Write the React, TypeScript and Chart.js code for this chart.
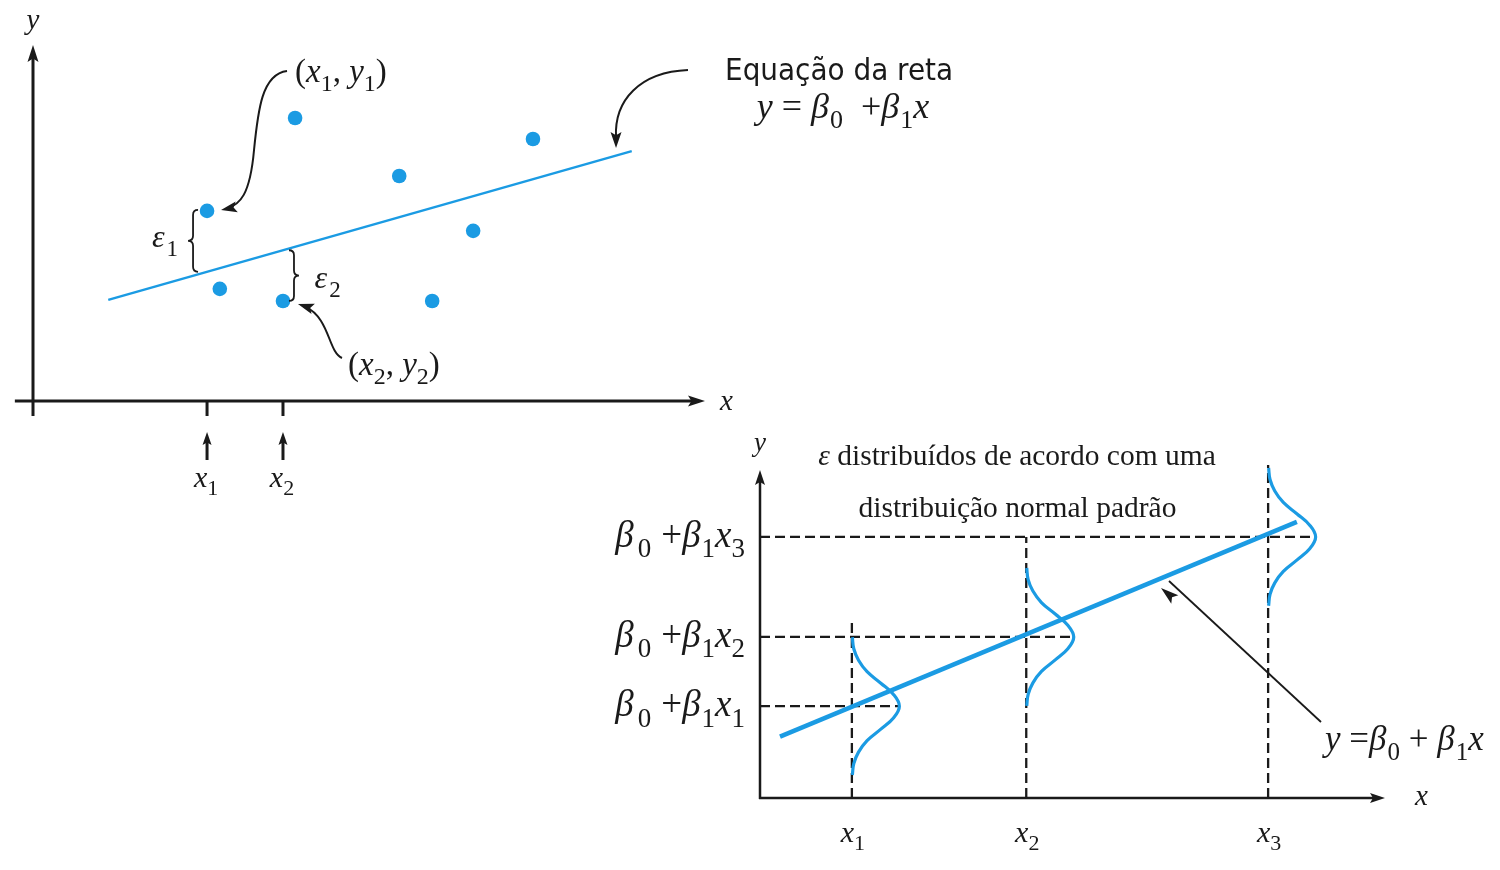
import React, { useEffect, useRef } from 'react';
import { Chart, registerables } from 'chart.js';

Chart.register(...registerables);

const BLUE = '#1b9be3';
const INK = '#1a1a1a';
const SERIF = '"Liberation Serif", "Times New Roman", serif';
const SANS = '"DejaVu Sans Condensed", "DejaVu Sans", sans-serif';

// ---------- Chart 1: sample points and fitted line ----------
const sampleX = [2.59, 3.9, 5.45, 7.44, 6.55, 2.78, 3.72, 5.94];
const sampleY = [5.34, 7.95, 6.32, 7.36, 4.78, 3.15, 2.81, 2.81];
const fitLineX = [1.12, 8.91];
const fitLineY = [2.84, 7.02];
const markedIdx = [0, 6];
const tickSubs1 = ['1', '2'];

// ---------- Chart 2: normal error curves around the line ----------
const levelX = [1.47, 4.26, 8.13];
const levelY = [2.8, 4.91, 7.96];
const vertTop = [5.49, 7.96, 10.15];
const trendX = [0.32, 8.59];
const trendY = [1.87, 8.42];
const bellZ = [-3, -2.5, -2, -1.5, -1, -0.5, 0, 0.5, 1, 1.5, 2, 2.5, 3];
const bellH = [0.01, 0.04, 0.14, 0.32, 0.61, 0.88, 1, 0.88, 0.61, 0.32, 0.14, 0.04, 0.01];
const bellWidth = 0.76;
const bellHalfSpan = 2.1;
const subs2 = ['1', '2', '3'];

type Seg = { t: string; it?: boolean; sub?: boolean; gap?: number };

function drawRich(ctx: CanvasRenderingContext2D, segs: Seg[], x: number, y: number, size: number, align: 'left' | 'center' | 'right', fam = SERIF) {
  const fontOf = (s: Seg) => `${s.it ? 'italic ' : ''}${s.sub ? Math.round(size * 0.72) : size}px ${fam}`;
  let w = 0;
  for (const s of segs) {
    ctx.font = fontOf(s);
    w += ctx.measureText(s.t).width + (s.gap || 0);
  }
  let cx = align === 'left' ? x : align === 'center' ? x - w / 2 : x - w;
  ctx.textAlign = 'left';
  ctx.textBaseline = 'alphabetic';
  for (const s of segs) {
    ctx.font = fontOf(s);
    ctx.fillText(s.t, cx, y + (s.sub ? size * 0.28 : 0));
    cx += ctx.measureText(s.t).width + (s.gap || 0);
  }
}

function seg(ctx: CanvasRenderingContext2D, x1: number, y1: number, x2: number, y2: number) {
  ctx.beginPath();
  ctx.moveTo(x1, y1);
  ctx.lineTo(x2, y2);
  ctx.stroke();
}

function arrowHead(ctx: CanvasRenderingContext2D, tx: number, ty: number, fx: number, fy: number, len = 13, half = 5) {
  const a = Math.atan2(ty - fy, tx - fx);
  const c = Math.cos(a), s = Math.sin(a);
  ctx.beginPath();
  ctx.moveTo(tx, ty);
  ctx.lineTo(tx - len * c + half * s, ty - len * s - half * c);
  ctx.lineTo(tx - len * c * 0.8, ty - len * s * 0.8);
  ctx.lineTo(tx - len * c - half * s, ty - len * s + half * c);
  ctx.closePath();
  ctx.fill();
}

function brace(ctx: CanvasRenderingContext2D, x: number, yTop: number, yBot: number, dir: number) {
  const r = 5;
  const ym = (yTop + yBot) / 2;
  ctx.beginPath();
  ctx.moveTo(x - dir * r, yTop);
  ctx.quadraticCurveTo(x, yTop, x, yTop + r);
  ctx.lineTo(x, ym - r);
  ctx.quadraticCurveTo(x, ym, x + dir * r, ym);
  ctx.quadraticCurveTo(x, ym, x, ym + r);
  ctx.lineTo(x, yBot - r);
  ctx.quadraticCurveTo(x, yBot, x - dir * r, yBot);
  ctx.stroke();
}

const lineAt = (v: number) => fitLineY[0] + ((v - fitLineX[0]) * (fitLineY[1] - fitLineY[0])) / (fitLineX[1] - fitLineX[0]);

const deco1 = {
  id: 'deco1',
  beforeDatasetsDraw(chart: any) {
    const { ctx, scales } = chart;
    const X = (v: number) => scales.x.getPixelForValue(v);
    const Y = (v: number) => scales.y.getPixelForValue(v);
    ctx.save();
    ctx.strokeStyle = INK;
    ctx.fillStyle = INK;
    ctx.lineWidth = 3;
    const ox = X(0), oy = Y(0);
    seg(ctx, ox, Y(-0.42), ox, Y(10) + 12);
    arrowHead(ctx, ox, Y(10), ox, Y(10) + 20, 17, 5.5);
    seg(ctx, X(-0.27), oy, X(10) - 12, oy);
    arrowHead(ctx, X(10), oy, X(10) - 20, oy, 17, 5.5);
    markedIdx.forEach((idx, k) => {
      const tx = X(sampleX[idx]);
      ctx.lineWidth = 3;
      seg(ctx, tx, oy, tx, oy + 15);
      seg(ctx, tx, oy + 59, tx, oy + 40);
      arrowHead(ctx, tx, oy + 31, tx, oy + 50, 13, 4.5);
      drawRich(ctx, [{ t: 'x', it: true }, { t: tickSubs1[k], sub: true }], tx - 1, oy + 86, 30, 'center');
    });
    drawRich(ctx, [{ t: 'y', it: true }], ox, Y(10) - 16, 29, 'center');
    drawRich(ctx, [{ t: 'x', it: true }], X(10) + 15, oy + 9, 29, 'left');
    ctx.restore();
  },
  afterDatasetsDraw(chart: any) {
    const { ctx, scales } = chart;
    const X = (v: number) => scales.x.getPixelForValue(v);
    const Y = (v: number) => scales.y.getPixelForValue(v);
    ctx.save();
    ctx.strokeStyle = INK;
    ctx.fillStyle = INK;
    ctx.lineWidth = 1.8;
    const i1 = markedIdx[0], i2 = markedIdx[1];
    brace(ctx, X(sampleX[i1]) - 14, Y(sampleY[i1]) - 1, Y(lineAt(sampleX[i1])), -1);
    brace(ctx, X(sampleX[i2]) + 11, Y(lineAt(sampleX[i2])), Y(sampleY[i2]), 1);
    drawRich(ctx, [{ t: 'ε', it: true, gap: 2 }, { t: '1', sub: true }], X(1.77), Y(4.326), 32, 'left');
    drawRich(ctx, [{ t: 'ε', it: true, gap: 2 }, { t: '2', sub: true }], X(4.19), Y(3.174), 32, 'left');
    drawRich(ctx, [{ t: '(' }, { t: 'x', it: true }, { t: '1', sub: true }, { t: ', ' }, { t: 'y', it: true }, { t: '1', sub: true }, { t: ')' }], X(3.899), Y(8.961), 33, 'left');
    drawRich(ctx, [{ t: '(' }, { t: 'x', it: true }, { t: '2', sub: true }, { t: ', ' }, { t: 'y', it: true }, { t: '2', sub: true }, { t: ')' }], X(4.688), Y(0.73), 33, 'left');
    ctx.lineWidth = 2;
    ctx.beginPath();
    ctx.moveTo(X(3.78), Y(9.27));
    ctx.bezierCurveTo(X(3.408), Y(9.185), X(3.348), Y(8.174), X(3.289), Y(7.051));
    ctx.bezierCurveTo(X(3.229), Y(5.787), X(3.08), Y(5.506), X(2.87), Y(5.39));
    ctx.stroke();
    arrowHead(ctx, X(2.798), Y(5.365), X(3.0), Y(5.44), 16, 5.5);
    ctx.beginPath();
    ctx.moveTo(X(4.598), Y(1.208));
    ctx.bezierCurveTo(X(4.39), Y(1.376), X(4.42), Y(2.331), X(4.05), Y(2.65));
    ctx.stroke();
    arrowHead(ctx, X(3.943), Y(2.725), X(4.15), Y(2.6), 16, 5.5);
    ctx.font = `31px ${SANS}`;
    ctx.textAlign = 'left';
    ctx.textBaseline = 'alphabetic';
    ctx.fillText('Equação da reta', X(10.298), Y(9.017));
    drawRich(
      ctx,
      [{ t: 'y', it: true }, { t: ' = ' }, { t: 'β', it: true, gap: 1 }, { t: '0', sub: true }, { t: '  +' }, { t: 'β', it: true, gap: 1 }, { t: '1', sub: true }, { t: 'x', it: true }],
      X(12.054),
      Y(7.949),
      36,
      'center'
    );
    ctx.beginPath();
    ctx.moveTo(X(9.747), Y(9.298));
    ctx.bezierCurveTo(X(9.033), Y(9.242), X(8.646), Y(8.455), X(8.676), Y(7.4));
    ctx.stroke();
    arrowHead(ctx, X(8.676), Y(7.107), X(8.676), Y(7.6), 16, 5.5);
    ctx.restore();
  },
};

const deco2 = {
  id: 'deco2',
  beforeDatasetsDraw(chart: any) {
    const { ctx, scales } = chart;
    const X = (v: number) => scales.x.getPixelForValue(v);
    const Y = (v: number) => scales.y.getPixelForValue(v);
    ctx.save();
    ctx.strokeStyle = INK;
    ctx.fillStyle = INK;
    ctx.lineWidth = 2.5;
    const ox = X(0), oy = Y(0);
    seg(ctx, ox, oy + 1, ox, Y(10) + 12);
    arrowHead(ctx, ox, Y(10), ox, Y(10) + 20, 15, 5);
    seg(ctx, ox - 1, oy, X(10) - 12, oy);
    arrowHead(ctx, X(10), oy, X(10) - 20, oy, 15, 5);
    drawRich(ctx, [{ t: 'y', it: true }], ox, Y(10) - 19, 27, 'center');
    drawRich(ctx, [{ t: 'x', it: true }], X(10.48), oy + 7, 29, 'left');
    levelX.forEach((lx, i) => {
      drawRich(ctx, [{ t: 'x', it: true }, { t: subs2[i], sub: true }], X(lx) + 1, oy + 44, 30, 'center');
      drawRich(
        ctx,
        [{ t: 'β', it: true, gap: 4 }, { t: '0', sub: true, gap: 10 }, { t: '+' }, { t: 'β', it: true, gap: 1 }, { t: '1', sub: true }, { t: 'x', it: true }, { t: subs2[i], sub: true }],
        X(-0.24),
        Y(levelY[i]) + 10,
        37,
        'right'
      );
    });
    drawRich(ctx, [{ t: 'ε', it: true }, { t: ' distribuídos de acordo com uma' }], X(4.112), Y(10.152), 29.5, 'center');
    drawRich(ctx, [{ t: 'distribuição normal padrão' }], X(4.12), Y(8.567), 29.5, 'center');
    ctx.restore();
  },
  afterDatasetsDraw(chart: any) {
    const { ctx, scales } = chart;
    const X = (v: number) => scales.x.getPixelForValue(v);
    const Y = (v: number) => scales.y.getPixelForValue(v);
    ctx.save();
    ctx.strokeStyle = INK;
    ctx.fillStyle = INK;
    ctx.lineWidth = 1.8;
    seg(ctx, X(8.976), Y(2.317), X(6.416) + 8, Y(6.402) - 7);
    arrowHead(ctx, X(6.416), Y(6.402), X(8.976), Y(2.317), 18, 5.5);
    drawRich(
      ctx,
      [{ t: 'y', it: true }, { t: ' =' }, { t: 'β', it: true, gap: 1 }, { t: '0', sub: true }, { t: ' + ' }, { t: 'β', it: true, gap: 1 }, { t: '1', sub: true }, { t: 'x', it: true }],
      X(9.04),
      Y(1.463),
      35,
      'left'
    );
    ctx.restore();
  },
};

function hiddenScales() {
  return {
    x: { type: 'linear' as const, min: 0, max: 10, display: false },
    y: { type: 'linear' as const, min: 0, max: 10, display: false },
  };
}

function config1(): any {
  return {
    type: 'scatter',
    data: {
      datasets: [
        {
          data: sampleX.map((v, i) => ({ x: v, y: sampleY[i] })),
          backgroundColor: BLUE,
          pointRadius: 7.3,
          pointBorderWidth: 0,
          order: 0,
        },
        {
          data: fitLineX.map((v, i) => ({ x: v, y: fitLineY[i] })),
          showLine: true,
          borderColor: BLUE,
          borderWidth: 2.5,
          pointRadius: 0,
          order: 1,
        },
      ],
    },
    options: {
      responsive: false,
      animation: false,
      events: [],
      layout: { padding: { left: 33, right: 295, top: 45, bottom: 119 } },
      scales: hiddenScales(),
      plugins: { legend: { display: false }, tooltip: { enabled: false } },
    },
    plugins: [deco1],
  };
}

function config2(): any {
  const datasets: any[] = [];
  levelX.forEach((lx, i) => {
    datasets.push({
      data: [{ x: 0, y: levelY[i] }, { x: lx + bellWidth, y: levelY[i] }],
      showLine: true,
      borderColor: INK,
      borderWidth: 2.3,
      borderDash: [10, 5],
      pointRadius: 0,
      clip: false,
      order: 3,
    });
    datasets.push({
      data: [{ x: lx, y: 0 }, { x: lx, y: vertTop[i] }],
      showLine: true,
      borderColor: INK,
      borderWidth: 2.3,
      borderDash: [10, 5],
      pointRadius: 0,
      clip: false,
      order: 3,
    });
    datasets.push({
      data: bellZ.map((z, k) => ({ x: lx + bellH[k] * bellWidth, y: levelY[i] + (z * bellHalfSpan) / 3 })),
      showLine: true,
      borderColor: BLUE,
      borderWidth: 3.2,
      tension: 0.4,
      pointRadius: 0,
      clip: false,
      order: 1,
    });
  });
  datasets.push({
    data: trendX.map((v, i) => ({ x: v, y: trendY[i] })),
    showLine: true,
    borderColor: BLUE,
    borderWidth: 4.5,
    pointRadius: 0,
    clip: false,
    order: 0,
  });
  return {
    type: 'scatter',
    data: { datasets },
    options: {
      responsive: false,
      animation: false,
      events: [],
      layout: { padding: { left: 200, right: 115, top: 50, bottom: 72 } },
      scales: hiddenScales(),
      plugins: { legend: { display: false }, tooltip: { enabled: false } },
    },
    plugins: [deco2],
  };
}

export default function App() {
  const r1 = useRef<HTMLCanvasElement>(null);
  const r2 = useRef<HTMLCanvasElement>(null);
  useEffect(() => {
    const c1 = new Chart(r1.current as HTMLCanvasElement, config1());
    const c2 = new Chart(r2.current as HTMLCanvasElement, config2());
    return () => {
      c1.destroy();
      c2.destroy();
    };
  }, []);
  return (
    <div style={{ position: 'absolute', left: 0, top: 0, width: 1500, height: 870, background: '#fff', overflow: 'hidden' }}>
      <canvas ref={r1} width={1000} height={520} style={{ position: 'absolute', left: 0, top: 0, width: 1000, height: 520 }} />
      <canvas ref={r2} width={940} height={450} style={{ position: 'absolute', left: 560, top: 420, width: 940, height: 450 }} />
    </div>
  );
}
